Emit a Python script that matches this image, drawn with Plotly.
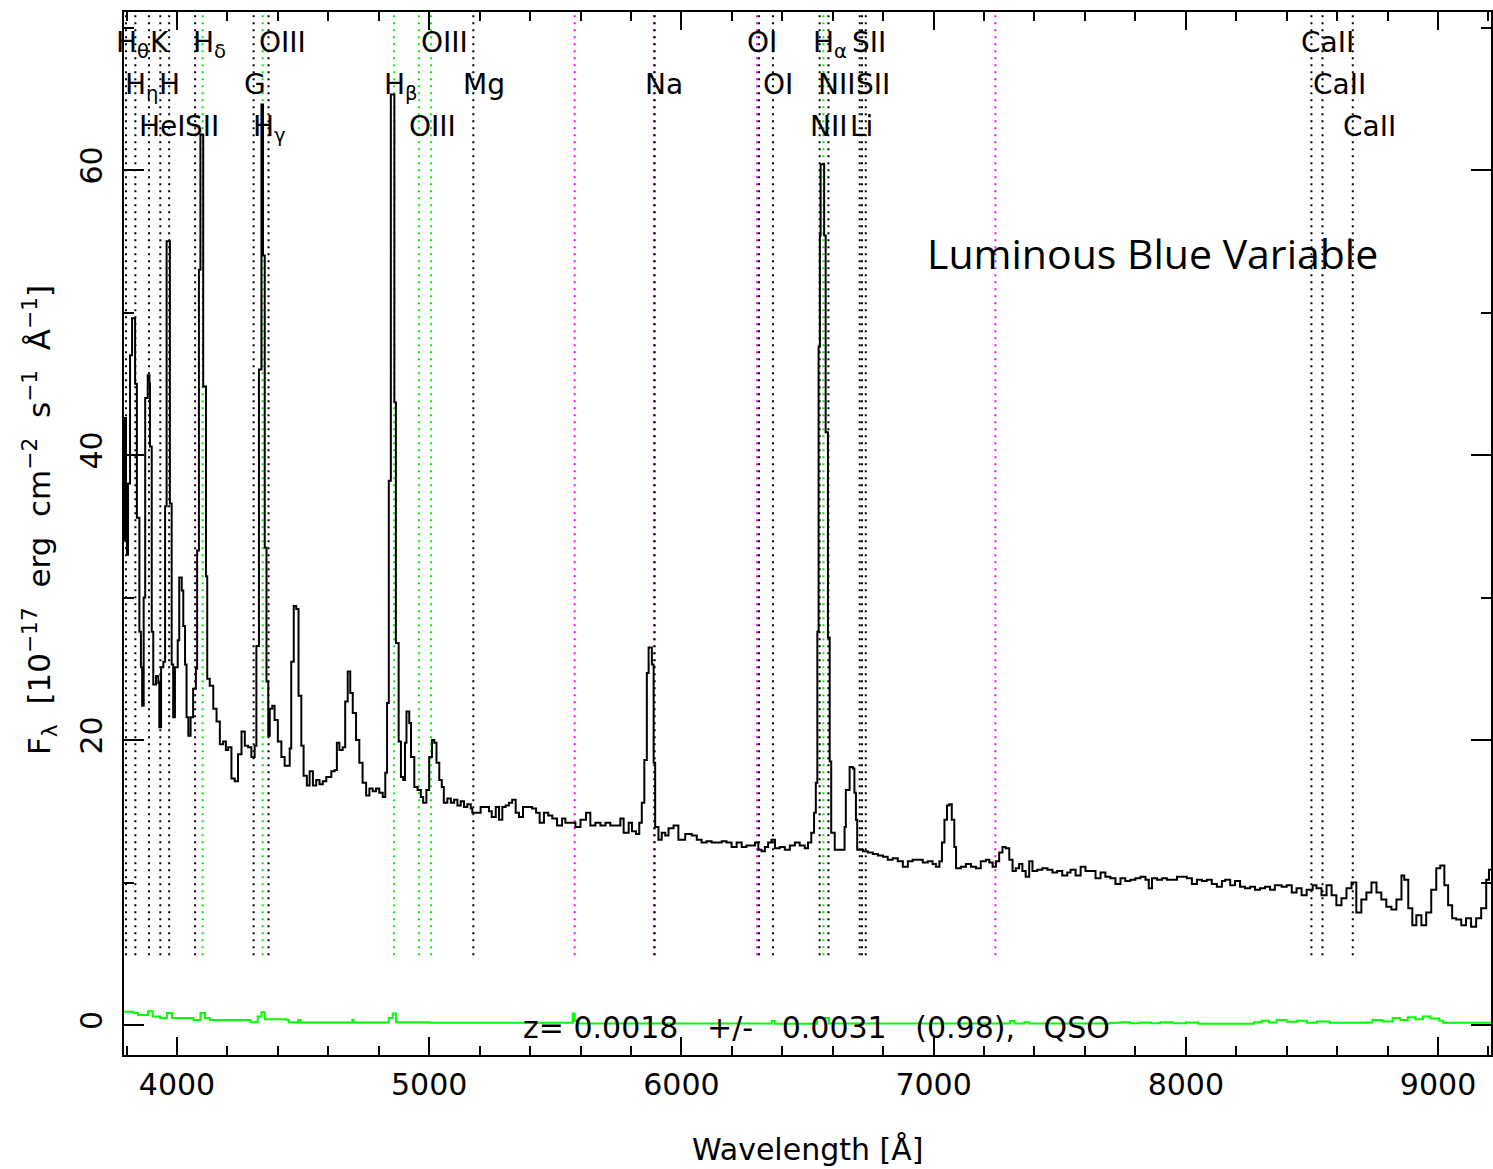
import plotly.graph_objects as go

# ---------------- data ----------------
wave = [3790, 3794, 3798, 3802, 3806, 3814, 3822, 3830, 3834, 3841, 3851, 3857, 3862, 3868, 3874, 3884,
        3891, 3893, 3900, 3906, 3917, 3926, 3930, 3937, 3946, 3953, 3959, 3970, 3972, 3979, 3985, 3992,
        4003, 4009, 4019, 4025, 4032, 4038, 4045, 4054, 4064, 4075, 4080, 4087, 4093, 4101, 4104, 4115,
        4120, 4130, 4144, 4157, 4170, 4183, 4194, 4203, 4216, 4229, 4242, 4256, 4269, 4282, 4295, 4308,
        4315, 4325, 4335, 4341, 4348, 4355, 4362, 4368, 4378, 4387, 4400, 4414, 4427, 4447, 4453, 4463,
        4473, 4482, 4493, 4502, 4515, 4526, 4539, 4552, 4565, 4578, 4592, 4612, 4625, 4634, 4644, 4657,
        4667, 4677, 4687, 4697, 4710, 4723, 4736, 4750, 4763, 4776, 4789, 4802, 4816, 4826, 4833, 4840,
        4848, 4855, 4862, 4868, 4879, 4888, 4897, 4904, 4910, 4921, 4928, 4941, 4954, 4967, 4976, 4989,
        5000, 5011, 5020, 5029, 5040, 5050, 5058, 5072, 5086, 5099, 5112, 5125, 5138, 5151, 5165, 5171,
        5185, 5204, 5224, 5237, 5248, 5264, 5277, 5290, 5303, 5316, 5329, 5343, 5356, 5372, 5389, 5408,
        5424, 5438, 5455, 5472, 5488, 5507, 5527, 5540, 5560, 5580, 5600, 5622, 5639, 5659, 5679, 5699,
        5718, 5738, 5758, 5771, 5791, 5804, 5820, 5833, 5843, 5853, 5863, 5870, 5877, 5883, 5890, 5896,
        5909, 5922, 5936, 5949, 5969, 5988, 6015, 6041, 6061, 6080, 6100, 6120, 6140, 6160, 6179, 6199,
        6219, 6239, 6258, 6278, 6292, 6305, 6318, 6331, 6344, 6357, 6371, 6390, 6410, 6430, 6450, 6469,
        6489, 6502, 6515, 6526, 6533, 6539, 6544, 6549, 6552, 6560, 6566, 6572, 6581, 6588, 6594, 6608,
        6621, 6634, 6647, 6652, 6667, 6680, 6686, 6692, 6697, 6720, 6739, 6759, 6779, 6799, 6818, 6838,
        6858, 6878, 6898, 6917, 6937, 6957, 6977, 6996, 7009, 7023, 7033, 7043, 7053, 7062, 7072, 7082,
        7089, 7108, 7128, 7148, 7168, 7187, 7207, 7221, 7234, 7247, 7260, 7273, 7286, 7300, 7313, 7326,
        7339, 7352, 7365, 7379, 7392, 7411, 7431, 7451, 7471, 7490, 7510, 7530, 7543, 7563, 7583, 7602,
        7622, 7642, 7662, 7681, 7701, 7721, 7741, 7760, 7780, 7800, 7820, 7840, 7853, 7866, 7886, 7906,
        7925, 7945, 7965, 7985, 8004, 8024, 8044, 8064, 8083, 8103, 8123, 8143, 8156, 8176, 8195, 8215,
        8235, 8255, 8274, 8294, 8314, 8334, 8353, 8380, 8400, 8420, 8439, 8459, 8479, 8503, 8518, 8538,
        8558, 8578, 8597, 8617, 8637, 8657, 8676, 8696, 8716, 8736, 8756, 8775, 8795, 8815, 8835, 8855,
        8866, 8882, 8898, 8914, 8934, 8953, 8973, 8993, 9009, 9025, 9040, 9056, 9072, 9092, 9111, 9131,
        9151, 9171, 9191, 9202, 9215]

flux = [34.0, 42.6, 36.0, 33.0, 38.0, 47.0, 49.6, 49.6, 45.0, 35.6, 27.6, 25.1, 22.4, 30.0, 44.0, 45.6,
        45.0, 40.6, 27.6, 23.9, 24.5, 24.0, 20.9, 25.1, 25.5, 36.4, 55.0, 55.0, 36.6, 25.3, 21.6, 25.1,
        27.0, 31.4, 30.5, 28.0, 25.3, 21.6, 20.3, 21.6, 23.6, 25.0, 33.3, 53.0, 62.5, 62.5, 44.8, 31.5,
        24.3, 23.8, 22.2, 21.3, 19.7, 19.9, 19.3, 19.5, 17.3, 17.1, 19.0, 20.6, 19.6, 19.5, 18.8, 19.6,
        26.6, 46.0, 64.6, 54.0, 33.5, 24.1, 20.3, 22.2, 22.4, 21.4, 19.9, 18.8, 18.2, 19.4, 25.5, 29.4,
        29.2, 23.1, 19.6, 17.5, 16.8, 17.8, 16.8, 17.2, 16.9, 17.1, 17.4, 17.8, 17.9, 19.8, 19.3, 19.5,
        22.7, 24.8, 23.3, 21.9, 20.0, 18.4, 17.0, 16.1, 16.6, 16.4, 16.6, 16.3, 16.0, 17.7, 22.6, 38.2,
        65.3, 65.3, 43.7, 26.8, 19.9, 17.4, 17.2, 19.8, 22.0, 21.2, 18.8, 16.7, 16.5, 16.0, 15.6, 16.5,
        18.8, 20.0, 19.8, 18.4, 17.2, 16.7, 15.6, 15.9, 15.6, 15.8, 15.4, 15.7, 15.3, 15.5, 15.2, 14.9,
        14.9, 15.3, 15.3, 15.0, 14.6, 15.3, 14.4, 15.3, 15.4, 15.6, 15.8, 14.9, 14.6, 15.3, 15.3, 15.2,
        14.9, 14.2, 14.9, 14.7, 14.5, 14.0, 14.5, 14.2, 14.2, 13.9, 14.4, 14.9, 14.0, 14.2, 14.0, 14.2,
        14.0, 14.0, 14.5, 13.5, 14.2, 13.6, 13.4, 14.2, 15.6, 18.6, 24.7, 26.5, 26.5, 25.3, 18.4, 13.9,
        13.0, 13.5, 13.3, 13.8, 14.0, 13.0, 13.4, 13.3, 13.0, 12.8, 12.9, 12.8, 12.8, 12.9, 12.8, 12.5,
        12.8, 12.5, 12.6, 12.6, 12.8, 12.3, 12.2, 12.5, 12.8, 13.0, 12.4, 12.5, 12.3, 12.6, 12.8, 12.6,
        12.4, 12.8, 13.5, 14.9, 17.0, 27.6, 47.6, 55.4, 60.4, 60.4, 55.4, 41.6, 27.2, 18.5, 13.5, 12.3,
        12.3, 12.3, 13.9, 16.5, 18.1, 18.0, 16.3, 14.4, 12.3, 12.2, 12.1, 12.0, 11.9, 11.8, 11.6, 11.7,
        11.5, 11.1, 11.5, 11.6, 11.6, 11.4, 11.5, 11.3, 11.1, 11.5, 12.8, 14.4, 15.4, 15.5, 14.4, 12.5,
        11.0, 11.1, 11.3, 11.1, 11.0, 11.5, 11.6, 11.4, 11.1, 11.5, 12.1, 12.5, 12.4, 11.6, 10.8, 11.0,
        11.3, 10.8, 10.4, 11.5, 10.8, 10.9, 11.0, 10.9, 10.7, 10.8, 10.5, 10.7, 10.9, 10.5, 11.1, 10.8,
        10.8, 10.3, 10.7, 10.4, 10.3, 9.9, 10.3, 10.1, 10.2, 10.3, 10.4, 10.2, 9.6, 10.3, 10.2, 10.3,
        10.2, 10.2, 10.4, 10.4, 10.3, 9.9, 10.2, 10.1, 10.2, 9.9, 9.7, 10.1, 10.2, 9.8, 10.1, 9.7,
        9.6, 9.7, 9.5, 9.6, 9.7, 9.5, 9.8, 9.7, 9.8, 9.3, 9.6, 9.1, 9.5, 9.8, 9.6, 9.1,
        9.8, 9.1, 8.4, 8.9, 9.6, 10.0, 7.9, 8.8, 9.3, 10.0, 9.3, 8.8, 8.3, 8.1, 8.8, 10.5,
        10.2, 8.2, 7.0, 7.7, 7.0, 7.9, 9.5, 11.0, 11.2, 9.8, 8.4, 7.5, 7.4, 7.0, 7.5, 6.9,
        7.5, 8.2, 10.2, 10.9, 11.0]

err_wave = [3790, 3818, 3828, 3846, 3885, 3904, 3933, 3960, 3980, 4055, 4065, 4093, 4111, 4130, 4280,
            4292, 4320, 4335, 4348, 4434, 4443, 4481, 4490, 4695, 4700, 4840, 4855, 4868, 5000, 5560,
            5569, 5577, 5590, 6200, 6358, 6370, 6538, 6566, 6585, 7303, 7320, 7360, 7380, 7700, 7740,
            7780, 7820, 7860, 7900, 7950, 8000, 8050, 8250, 8270, 8300, 8330, 8360, 8400, 8440, 8480,
            8520, 8570, 8700, 8740, 8780, 8820, 8850, 8880, 8910, 8940, 8970, 9005, 9020, 9215]
err_flux = [0.93, 0.93, 0.85, 0.70, 0.97, 0.60, 0.50, 0.85, 0.50, 0.50, 0.35, 0.85, 0.50, 0.35, 0.35,
            0.20, 0.60, 0.90, 0.40, 0.35, 0.20, 0.35, 0.18, 0.35, 0.18, 0.50, 0.80, 0.20, 0.15, 0.15,
            0.80, 0.30, 0.10, 0.10, 0.28, 0.08, 0.50, 0.50, 0.10, 0.28, 0.10, 0.20, 0.10, 0.15, 0.20,
            0.12, 0.18, 0.12, 0.20, 0.12, 0.18, 0.08, 0.08, 0.20, 0.30, 0.18, 0.35, 0.22, 0.30, 0.15,
            0.25, 0.15, 0.18, 0.35, 0.25, 0.50, 0.35, 0.55, 0.40, 0.60, 0.45, 0.30, 0.15, 0.15]

black_lines = [3798, 3835, 3889, 3934, 3969, 4072, 4304, 4363, 5175, 5894, 6308, 6363,
               6548, 6583, 6707, 6716, 6731, 8498, 8542, 8662]
green_lines = [4102, 4340, 4861, 4959, 5007, 6563]
magenta_lines = [5577, 5891, 6300, 7245]

label_text = ["H<sub>θ</sub>", "K", "H<sub>δ</sub>", "OIII", "OIII", "OI", "H<sub>α</sub>", "SII", "CaII",
              "H<sub>η</sub>", "H", "G", "H<sub>β</sub>", "Mg", "Na", "OI", "NII", "SII", "CaII",
              "HeI", "SII", "H<sub>γ</sub>", "OIII", "NII", "Li", "CaII"]
label_wave = [3798, 3934, 4102, 4363, 5007, 6300, 6563, 6716, 8498,
              3835, 3969, 4304, 4861, 5175, 5894, 6363, 6583, 6731, 8542,
              3889, 4072, 4340, 4959, 6548, 6707, 8662]
label_row = [1, 1, 1, 1, 1, 1, 1, 1, 1,
             2, 2, 2, 2, 2, 2, 2, 2, 2, 2,
             3, 3, 3, 3, 3, 3, 3]

x_tickvals = [4000, 5000, 6000, 7000, 8000, 9000]
x_ticktext = ["4000", "5000", "6000", "7000", "8000", "9000"]
y_tickvals = [0, 20, 40, 60]
y_ticktext = ["0", "20", "40", "60"]

redshift_text = "z= 0.0018   +/-   0.0031   (0.98),   QSO"
class_text = "Luminous Blue Variable"

# ---------------- styling ----------------
XRANGE = [3790, 9210]
YRANGE = [-2.105, 71.09]
LINE_LO, LINE_HI = 4.9, 71.09
ROW_Y = {1: 0.9885, 2: 0.9482, 3: 0.9080}
HFONT = "DejaVu Sans"


def vlines(xs):
    vx, vy = [], []
    for v in xs:
        vx += [v, v, None]
        vy += [LINE_LO, LINE_HI, None]
    return vx, vy


fig = go.Figure()
for xs, col in ((magenta_lines, "#ff00ff"), (green_lines, "#00ee00"), (black_lines, "black")):
    vx, vy = vlines(xs)
    fig.add_trace(go.Scatter(x=vx, y=vy, mode="lines", hoverinfo="skip",
                             line=dict(color=col, width=2, dash="2px,5px")))

fig.add_trace(go.Scatter(x=wave, y=flux, mode="lines",
                         line=dict(color="black", width=2, shape="hv")))
fig.add_trace(go.Scatter(x=err_wave, y=err_flux, mode="lines",
                         line=dict(color="#00ff00", width=2, shape="hv")))

annotations = []
for t, w, r in zip(label_text, label_wave, label_row):
    annotations.append(dict(x=w, xref="x", y=ROW_Y[r], yref="paper", text=t, showarrow=False,
                            xanchor="left", yanchor="top", xshift=-12,
                            font=dict(family=HFONT, size=28, color="black")))

annotations.append(dict(x=5364, xref="x", y=-0.2, yref="y", text=redshift_text, showarrow=False,
                        xanchor="left", yanchor="middle",
                        font=dict(family=HFONT, size=30, color="black")))
annotations.append(dict(x=7866, xref="x", y=54.2, yref="y", text=class_text, showarrow=False,
                        xanchor="center", yanchor="middle",
                        font=dict(family="Open Sans", size=41, color="black")))
annotations.append(dict(x=0.5, xref="paper", y=-0.091, yref="paper",
                        text="Wavelength [Å]", showarrow=False,
                        xanchor="center", yanchor="middle",
                        font=dict(family=HFONT, size=30, color="black")))
annotations.append(dict(x=-0.0614, xref="paper", y=0.513, yref="paper", textangle=-90,
                        text="F<sub>λ</sub>  [10<sup>−17</sup>  erg  cm<sup>−2</sup>  s<sup>−1</sup>  Å<sup>−1</sup>]",
                        showarrow=False, xanchor="center", yanchor="middle",
                        font=dict(family=HFONT, size=31, color="black")))

fig.update_layout(
    width=1493, height=1169,
    margin=dict(l=124, r=0, t=12, b=114),
    plot_bgcolor="white", paper_bgcolor="white",
    showlegend=False,
    annotations=annotations,
    xaxis=dict(range=XRANGE, showgrid=False, zeroline=False,
               showline=True, linecolor="black", linewidth=2, mirror="allticks",
               ticks="inside", ticklen=18, tickwidth=2, tickcolor="black",
               tickmode="array", tickvals=x_tickvals, ticktext=x_ticktext,
               tickfont=dict(family=HFONT, size=30, color="black"),
               ticklabelstandoff=2,
               minor=dict(ticks="inside", ticklen=9, tickwidth=2, tickcolor="black",
                          tickmode="linear", tick0=0, dtick=200, showgrid=False)),
    yaxis=dict(range=YRANGE, showgrid=False, zeroline=False,
               showline=True, linecolor="black", linewidth=2, mirror="allticks",
               ticks="inside", ticklen=20, tickwidth=2, tickcolor="black",
               tickmode="array", tickvals=y_tickvals, ticktext=y_ticktext, tickangle=-90,
               tickfont=dict(family=HFONT, size=30, color="black"),
               ticklabelstandoff=8,
               minor=dict(ticks="inside", ticklen=10, tickwidth=2, tickcolor="black",
                          tickmode="linear", tick0=0, dtick=10, showgrid=False)),
)

fig.write_html("out.html", config={"displayModeBar": False},
               post_script="document.body.style.margin='0px';")
